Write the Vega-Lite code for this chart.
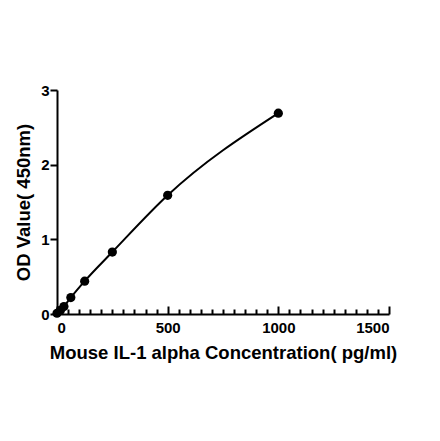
{
  "$schema": "https://vega.github.io/schema/vega-lite/v6.json",
  "width": 332,
  "height": 224,
  "autosize": "none",
  "padding": {"left": 57, "top": 90, "right": 51, "bottom": 127},
  "background": "white",
  "config": {"view": {"stroke": null}, "font": "Liberation Sans"},
  "data": {"values": [
    {"conc": 0, "od": 0.01},
    {"conc": 15.6, "od": 0.05},
    {"conc": 31.25, "od": 0.1},
    {"conc": 62.5, "od": 0.22},
    {"conc": 125, "od": 0.44},
    {"conc": 250, "od": 0.83},
    {"conc": 500, "od": 1.59},
    {"conc": 1000, "od": 2.69}
  ]},
  "resolve": {"axis": {"x": "independent"}},
  "layer": [
    {
      "mark": {"type": "line", "interpolate": "monotone", "color": "black", "strokeWidth": 2},
      "encoding": {
        "x": {"field": "conc", "type": "quantitative", "scale": {"domain": [0, 1500], "nice": false},
          "axis": {"orient": "bottom", "values": [0, 500, 1000, 1500], "format": "d", "title": "Mouse IL-1 alpha Concentration( pg/ml)", "grid": false,
            "domainColor": "black", "domainWidth": 2, "tickColor": "black", "tickWidth": 2, "tickSize": -8,
            "labelFont": "Liberation Sans", "labelFontWeight": "bold", "labelFontSize": 15, "labelColor": "black", "labelPadding": 14,
            "titleFont": "Liberation Sans", "titleFontWeight": "bold", "titleFontSize": 18.5, "titleColor": "black", "titlePadding": 8}},
        "y": {"field": "od", "type": "quantitative", "scale": {"domain": [0, 3], "nice": false},
          "axis": {"values": [0, 1, 2, 3], "format": "d", "title": "OD Value( 450nm)", "grid": false,
            "domainColor": "black", "domainWidth": 2, "tickColor": "black", "tickWidth": 2, "tickSize": 7,
            "labelFont": "Liberation Sans", "labelFontWeight": "bold", "labelFontSize": 15, "labelColor": "black", "labelPadding": 1,
            "titleFont": "Liberation Sans", "titleFontWeight": "bold", "titleFontSize": 18.5, "titleColor": "black", "titlePadding": 7}}
      }
    },
    {
      "mark": {"type": "point", "filled": true, "color": "black", "size": 85, "opacity": 1},
      "encoding": {
        "x": {"field": "conc", "type": "quantitative",
          "axis": {"orient": "bottom", "values": [50,100,150,200,250,300,350,400,450,550,600,650,700,750,800,850,900,950,1050,1100,1150,1200,1250,1300,1350,1400,1450],
            "labels": false, "title": null, "domain": false, "grid": false, "tickColor": "black", "tickWidth": 2, "tickSize": -5}},
        "y": {"field": "od", "type": "quantitative"}
      }
    }
  ]
}
